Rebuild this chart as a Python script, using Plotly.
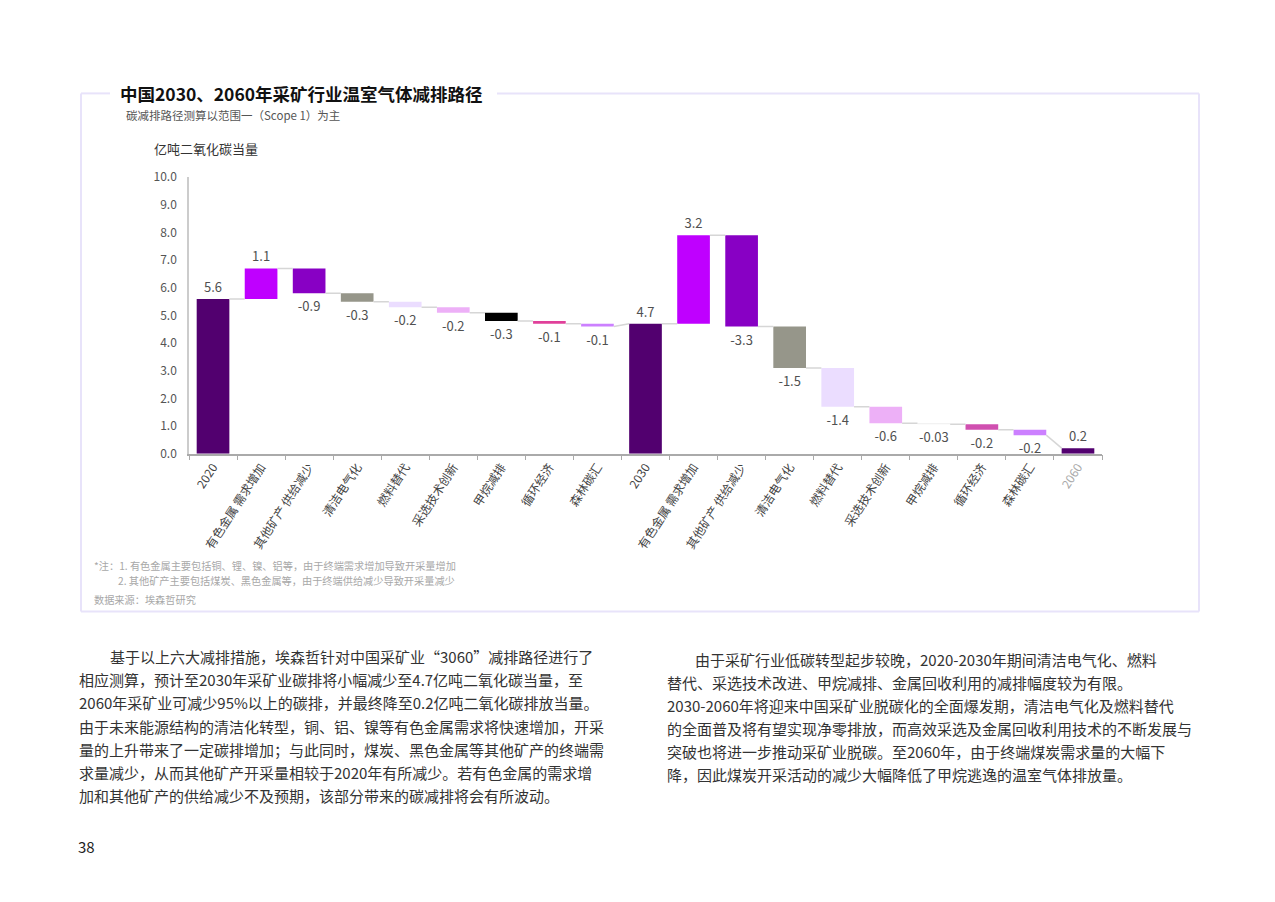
import plotly.graph_objects as go

W, H = 1275, 902
FONT = "Noto Sans CJK SC"
OFF_X = 8      # page body margin, horizontal
OFF_Y = 8      # page body margin, vertical
VS, VI = 0.983, 9.6   # measured vertical screen mapping correction

# ---------------- data ----------------
categories = ["2020", "有色金属 需求增加", "其他矿产 供给减少", "清洁电气化", "燃料替代",
              "采选技术创新", "甲烷减排", "循环经济", "森林碳汇", "2030",
              "有色金属 需求增加", "其他矿产 供给减少", "清洁电气化", "燃料替代",
              "采选技术创新", "甲烷减排", "循环经济", "森林碳汇", "2060"]
values = [5.6, 1.1, -0.9, -0.3, -0.2, -0.2, -0.3, -0.1, -0.1, 4.7,
          3.2, -3.3, -1.5, -1.4, -0.6, -0.03, -0.2, -0.2, 0.2]
measures = ["total", "delta", "delta", "delta", "delta", "delta", "delta", "delta", "delta", "total",
            "delta", "delta", "delta", "delta", "delta", "delta", "delta", "delta", "total"]
value_labels = ["5.6", "1.1", "-0.9", "-0.3", "-0.2", "-0.2", "-0.3", "-0.1", "-0.1", "4.7",
                "3.2", "-3.3", "-1.5", "-1.4", "-0.6", "-0.03", "-0.2", "-0.2", "0.2"]
bar_colors = ["#52006F", "#BF00FF", "#8800C4", "#96968A", "#EBDDFF", "#EDB0F7", "#000000",
              "#E0409A", "#CC80FF", "#52006F", "#BF00FF", "#8800C4", "#96968A", "#EBDDFF",
              "#EDB0F7", "#EEEEEE", "#D050B0", "#CC80FF", "#52006F"]
y_ticks = [0, 1, 2, 3, 4, 5, 6, 7, 8, 9, 10]

title = "中国2030、2060年采矿行业温室气体减排路径"
subtitle = "碳减排路径测算以范围一（Scope 1）为主"
y_title = "亿吨二氧化碳当量"
notes = ["*注：1. 有色金属主要包括铜、锂、镍、铝等，由于终端需求增加导致开采量增加",
         "2. 其他矿产主要包括煤炭、黑色金属等，由于终端供给减少导致开采量减少"]
source = "数据来源：埃森哲研究"
page_no = "38"

left_para = [
    "基于以上六大减排措施，埃森哲针对中国采矿业“3060”减排路径进行了",
    "相应测算，预计至2030年采矿业碳排将小幅减少至4.7亿吨二氧化碳当量，至",
    "2060年采矿业可减少95%以上的碳排，并最终降至0.2亿吨二氧化碳排放当量。",
    "由于未来能源结构的清洁化转型，铜、铝、镍等有色金属需求将快速增加，开采",
    "量的上升带来了一定碳排增加；与此同时，煤炭、黑色金属等其他矿产的终端需",
    "求量减少，从而其他矿产开采量相较于2020年有所减少。若有色金属的需求增",
    "加和其他矿产的供给减少不及预期，该部分带来的碳减排将会有所波动。",
]
right_para = [
    "由于采矿行业低碳转型起步较晚，2020-2030年期间清洁电气化、燃料",
    "替代、采选技术改进、甲烷减排、金属回收利用的减排幅度较为有限。",
    "2030-2060年将迎来中国采矿业脱碳化的全面爆发期，清洁电气化及燃料替代",
    "的全面普及将有望实现净零排放，而高效采选及金属回收利用技术的不断发展与",
    "突破也将进一步推动采矿业脱碳。至2060年，由于终端煤炭需求量的大幅下",
    "降，因此煤炭开采活动的减少大幅降低了甲烷逃逸的温室气体排放量。",
]


# ---------------- helpers ----------------
def px(x):
    return (x - OFF_X) / W


def py(y):
    yy = (y - VI) / VS - OFF_Y
    return 1 - yy / H


# compute waterfall bases
bases, heights, ends = [], [], []
level = 0.0
for v, m in zip(values, measures):
    if m == "total":
        bases.append(0.0)
        heights.append(v)
        level = v
    else:
        bases.append(level)
        heights.append(v)
        level = level + v
    ends.append(level)

xs = list(range(len(categories)))
BW = 0.68

fig = go.Figure()

# connectors
cx, cy = [], []
for i in range(len(categories) - 1):
    y0 = ends[i]
    y1 = values[i + 1] if measures[i + 1] == "total" else ends[i]
    cx += [i + BW / 2, i + 1 - BW / 2, None]
    cy += [y0, y1, None]
fig.add_trace(go.Scatter(x=cx, y=cy, mode="lines",
                         line=dict(color="#D6D6D6", width=1.5),
                         hoverinfo="skip", showlegend=False))

fig.add_trace(go.Bar(
    x=xs, y=heights, base=bases, width=BW,
    marker=dict(color=bar_colors, line=dict(width=0)),
    text=value_labels, textposition="outside", constraintext="none",
    textfont=dict(family=FONT, size=13, color="#505050"),
    cliponaxis=False, showlegend=False,
))

ticktext = [c if c != "2060" else '<span style="color:#AAAAAA">2060</span>' for c in categories]

fig.update_layout(
    width=W, height=H,
    margin=dict(l=0, r=0, t=0, b=0),
    paper_bgcolor="white", plot_bgcolor="white",
    font=dict(family=FONT, color="#444444"),
    xaxis=dict(
        domain=[px(189), px(1102)],
        range=[-0.5, len(categories) - 0.5],
        tickmode="array", tickvals=xs, ticktext=ticktext,
        tickangle=-57, ticks="",
        tickfont=dict(family=FONT, size=12, color="#444444"),
        showline=True, linecolor="#AAAAAA", linewidth=1.5,
        showgrid=False, zeroline=False,
        minor=dict(tick0=-0.5, dtick=1, ticks="outside", ticklen=5,
                   tickcolor="#AAAAAA", tickwidth=1, showgrid=False),
    ),
    yaxis=dict(
        domain=[py(454), py(177)],
        range=[0, 10], tickmode="array", tickvals=y_ticks, tickformat=".1f",
        tickfont=dict(family=FONT, size=12, color="#555555"),
        showline=True, linecolor="#CCCCCC", linewidth=1.5,
        showgrid=False, zeroline=False, ticks="", ticklabelstandoff=8,
    ),
)

# frame
FC = "#E8E3FA"
frame = [
    (81, 93, 110, 93), (497, 93, 1199, 93),
    (1199, 93, 1199, 612), (81, 612, 1199, 612), (81, 93, 81, 612),
]
for x0, y0, x1, y1 in frame:
    fig.add_shape(type="line", xref="paper", yref="paper",
                  x0=px(x0), y0=py(y0), x1=px(x1), y1=py(y1),
                  line=dict(color=FC, width=2))


def ann(text, x, y, size, color, bold=False, xanchor="left"):
    if bold:
        text = "<b>" + text + "</b>"
    fig.add_annotation(text=text, xref="paper", yref="paper",
                       x=px(x), y=py(y), xanchor=xanchor, yanchor="middle",
                       showarrow=False, align="left",
                       font=dict(family=FONT, size=size, color=color))


ann(title, 118, 93, 17.5, "#111111", bold=True)
ann(subtitle, 124, 115, 11.5, "#555555")
ann(y_title, 152, 148, 13, "#333333")
ann(notes[0], 92, 566, 10.2, "#A8A8A8")
ann(notes[1], 116, 581, 10.2, "#A8A8A8")
ann(source, 92, 600, 10.2, "#A8A8A8")
ann(page_no, 76, 848, 15, "#222222")

for k, line in enumerate(left_para):
    ann(line, 108 if k == 0 else 77, 657 + 23.3 * k, 15, "#333333")
for k, line in enumerate(right_para):
    ann(line, 693 if k == 0 else 665, 660 + 23.0 * k, 15, "#333333")

fig.write_html("out.html")
